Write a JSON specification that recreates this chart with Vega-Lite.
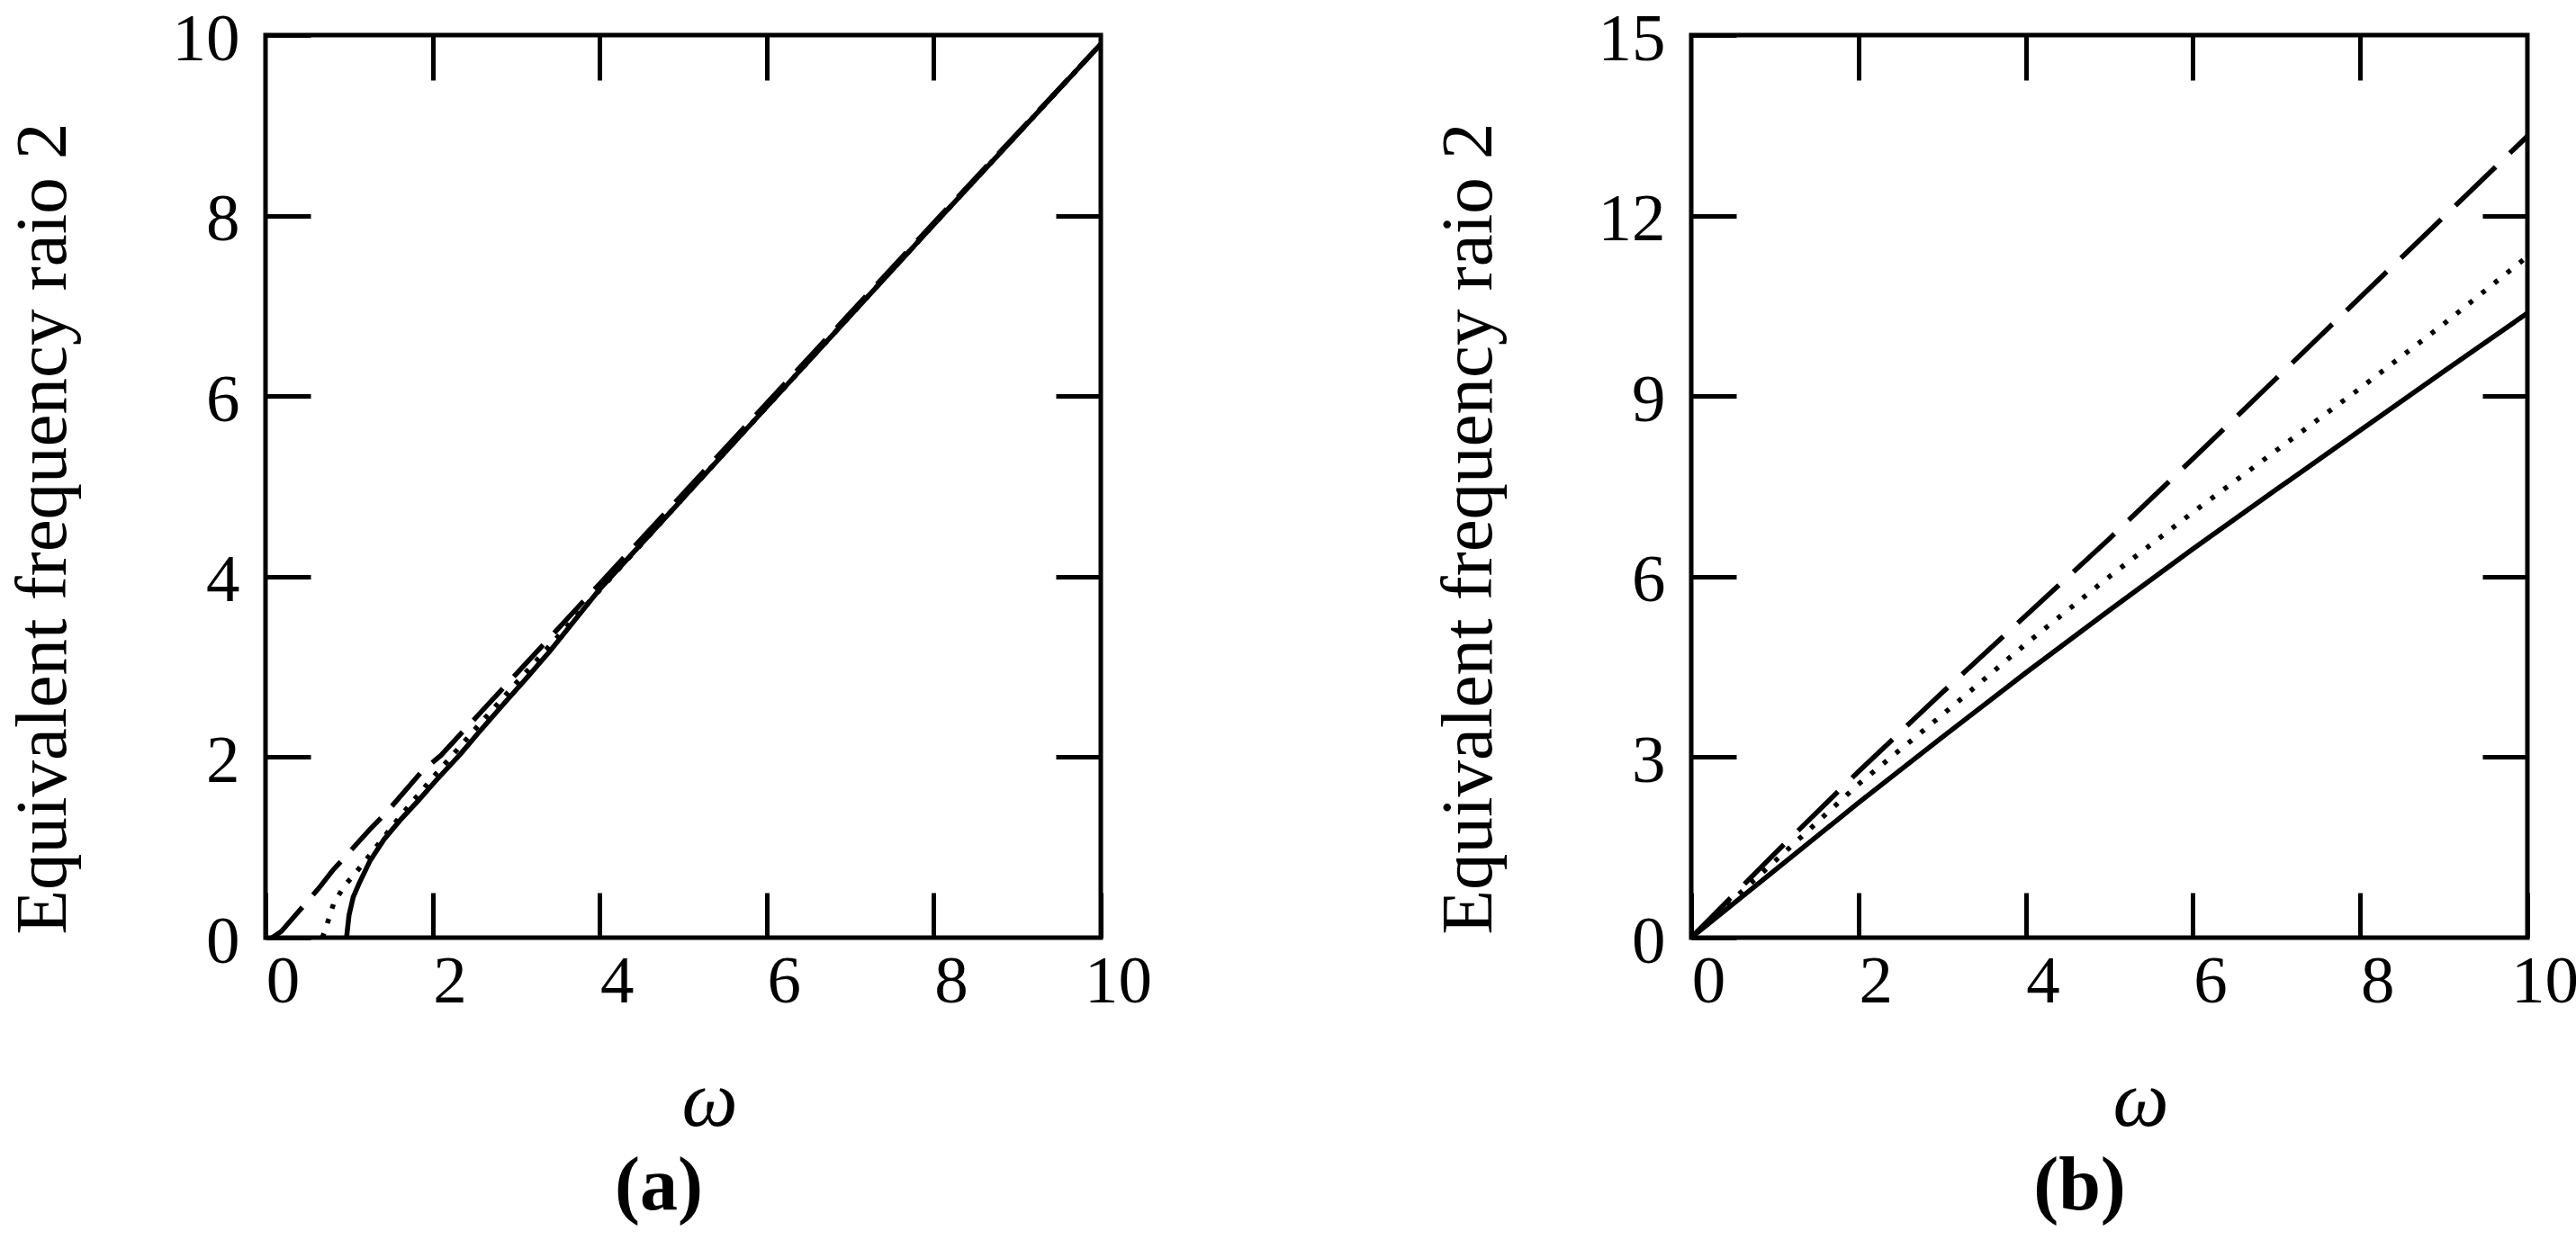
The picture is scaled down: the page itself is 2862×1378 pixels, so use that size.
{
  "$schema": "https://vega.github.io/schema/vega-lite/v6.json",
  "padding": {"left": 4, "top": 3, "right": 0, "bottom": 10},
  "background": "white",
  "config": {
    "font": "Liberation Serif",
    "view": {"stroke": "black", "strokeWidth": 5},
    "axis": {"grid": false, "labelFlush": false, "labelOverlap": false, "labelColor": "black", "labelFontSize": 75, "labelFont": "Liberation Serif", "tickColor": "black", "tickWidth": 5, "domain": false, "titleColor": "black", "titleFont": "Liberation Serif"},
    "title": {"font": "Liberation Serif", "color": "black"}
  },
  "datasets": {
    "a": [
      {"s": "solid", "w": 0.97, "v": 0.0}, {"s": "solid", "w": 1.0, "v": 0.25}, {"s": "solid", "w": 1.05, "v": 0.45}, {"s": "solid", "w": 1.12, "v": 0.6}, {"s": "solid", "w": 1.25, "v": 0.85}, {"s": "solid", "w": 1.42, "v": 1.09}, {"s": "solid", "w": 1.61, "v": 1.3}, {"s": "solid", "w": 1.83, "v": 1.52}, {"s": "solid", "w": 2.04, "v": 1.74}, {"s": "solid", "w": 2.33, "v": 2.03}, {"s": "solid", "w": 2.55, "v": 2.27}, {"s": "solid", "w": 2.87, "v": 2.61}, {"s": "solid", "w": 3.12, "v": 2.87}, {"s": "solid", "w": 3.41, "v": 3.18}, {"s": "solid", "w": 4, "v": 3.86}, {"s": "solid", "w": 5, "v": 4.87}, {"s": "solid", "w": 6, "v": 5.88}, {"s": "solid", "w": 7, "v": 6.89}, {"s": "solid", "w": 8, "v": 7.9}, {"s": "solid", "w": 9, "v": 8.9}, {"s": "solid", "w": 10, "v": 9.9},
      {"s": "dash", "w": 0.08, "v": 0.0}, {"s": "dash", "w": 0.19, "v": 0.07}, {"s": "dash", "w": 0.64, "v": 0.55}, {"s": "dash", "w": 0.8, "v": 0.74}, {"s": "dash", "w": 1.25, "v": 1.2}, {"s": "dash", "w": 1.45, "v": 1.39}, {"s": "dash", "w": 1.88, "v": 1.85}, {"s": "dash", "w": 2.1, "v": 2.02}, {"s": "dash", "w": 2.56, "v": 2.48}, {"s": "dash", "w": 3, "v": 2.92}, {"s": "dash", "w": 4, "v": 3.92}, {"s": "dash", "w": 5, "v": 4.92}, {"s": "dash", "w": 6, "v": 5.92}, {"s": "dash", "w": 7, "v": 6.92}, {"s": "dash", "w": 8, "v": 7.92}, {"s": "dash", "w": 9, "v": 8.91}, {"s": "dash", "w": 10, "v": 9.9},
      {"s": "dot", "w": 0.68, "v": 0.0}, {"s": "dot", "w": 0.72, "v": 0.1}, {"s": "dot", "w": 0.82, "v": 0.39}, {"s": "dot", "w": 0.95, "v": 0.58}, {"s": "dot", "w": 1.09, "v": 0.73}, {"s": "dot", "w": 1.27, "v": 0.94}, {"s": "dot", "w": 1.6, "v": 1.33}, {"s": "dot", "w": 2, "v": 1.77}, {"s": "dot", "w": 2.5, "v": 2.3}, {"s": "dot", "w": 3, "v": 2.82}, {"s": "dot", "w": 4, "v": 3.85}, {"s": "dot", "w": 5, "v": 4.87}, {"s": "dot", "w": 6, "v": 5.88}, {"s": "dot", "w": 7, "v": 6.89}, {"s": "dot", "w": 8, "v": 7.9}, {"s": "dot", "w": 9, "v": 8.9}, {"s": "dot", "w": 10, "v": 9.9}
    ],
    "b": [
      {"s": "solid", "w": 0, "v": 0}, {"s": "solid", "w": 1, "v": 1.12}, {"s": "solid", "w": 2, "v": 2.24}, {"s": "solid", "w": 3, "v": 3.33}, {"s": "solid", "w": 4, "v": 4.4}, {"s": "solid", "w": 5, "v": 5.44}, {"s": "solid", "w": 6, "v": 6.46}, {"s": "solid", "w": 7, "v": 7.45}, {"s": "solid", "w": 8, "v": 8.43}, {"s": "solid", "w": 9, "v": 9.41}, {"s": "solid", "w": 10, "v": 10.38},
      {"s": "dot", "w": 0, "v": 0}, {"s": "dot", "w": 1, "v": 1.27}, {"s": "dot", "w": 2, "v": 2.55}, {"s": "dot", "w": 3, "v": 3.7}, {"s": "dot", "w": 4, "v": 4.88}, {"s": "dot", "w": 5, "v": 6.0}, {"s": "dot", "w": 6, "v": 7.07}, {"s": "dot", "w": 7, "v": 8.1}, {"s": "dot", "w": 8, "v": 9.13}, {"s": "dot", "w": 9, "v": 10.2}, {"s": "dot", "w": 10, "v": 11.32},
      {"s": "dash", "w": 0, "v": 0}, {"s": "dash", "w": 1, "v": 1.4}, {"s": "dash", "w": 2, "v": 2.76}, {"s": "dash", "w": 3, "v": 4.07}, {"s": "dash", "w": 4, "v": 5.35}, {"s": "dash", "w": 5, "v": 6.63}, {"s": "dash", "w": 6, "v": 7.96}, {"s": "dash", "w": 7, "v": 9.3}, {"s": "dash", "w": 8, "v": 10.64}, {"s": "dash", "w": 9, "v": 11.98}, {"s": "dash", "w": 10, "v": 13.32}
    ]
  },
  "bounds": "flush",
  "spacing": 656,
  "hconcat": [
    {
      "width": 928, "height": 1003,
      "data": {"name": "a"},
      "title": {"text": "(a)", "orient": "bottom", "fontSize": 84, "fontWeight": "bold", "anchor": "middle", "dx": -27, "offset": 10},
      "resolve": {"axis": {"x": "independent", "y": "independent"}},
      "layer": [
        {
          "transform": [{"filter": "datum.s == 'solid'"}],
          "mark": {"type": "line", "color": "black", "strokeWidth": 5.5, "clip": true},
          "encoding": {
            "x": {"field": "w", "type": "quantitative", "scale": {"domain": [0, 10], "nice": false}, "axis": {"orient": "bottom", "values": [0, 2, 4, 6, 8, 10], "tickSize": -50, "labelPadding": 62, "labelOffset": 19, "title": "ω", "titleFontSize": 88, "titleFontStyle": "italic", "titleFontWeight": "normal", "titleX": 493, "titleY": 182, "titleBaseline": "middle", "titleAlign": "center"}},
            "y": {"field": "v", "type": "quantitative", "scale": {"domain": [0, 10], "nice": false}, "axis": {"orient": "left", "values": [0, 2, 4, 6, 8, 10], "tickSize": -50, "labelPadding": 79, "labelOffset": 4, "title": "Equivalent frequency raio 2", "titleFontSize": 81, "titleFontWeight": "normal", "titleAngle": -90, "titleX": -247, "titleY": 548, "titleBaseline": "middle", "titleAlign": "center"}}
          }
        },
        {
          "transform": [{"filter": "datum.s == 'dash'"}],
          "mark": {"type": "line", "color": "black", "strokeWidth": 5.5, "strokeDash": [48, 18], "clip": true},
          "encoding": {
            "x": {"field": "w", "type": "quantitative", "axis": {"orient": "top", "values": [2, 4, 6, 8], "tickSize": -50, "labels": false, "title": null}},
            "y": {"field": "v", "type": "quantitative", "axis": {"orient": "right", "values": [2, 4, 6, 8], "tickSize": -50, "labels": false, "title": null}}
          }
        },
        {
          "transform": [{"filter": "datum.s == 'dot'"}],
          "mark": {"type": "line", "color": "black", "strokeWidth": 5.5, "strokeDash": [5, 12], "clip": true},
          "encoding": {
            "x": {"field": "w", "type": "quantitative", "axis": null},
            "y": {"field": "v", "type": "quantitative", "axis": null}
          }
        }
      ]
    },
    {
      "width": 929, "height": 1003,
      "data": {"name": "b"},
      "title": {"text": "(b)", "orient": "bottom", "fontSize": 84, "fontWeight": "bold", "anchor": "middle", "dx": -33, "offset": 10},
      "resolve": {"axis": {"x": "independent", "y": "independent"}},
      "layer": [
        {
          "transform": [{"filter": "datum.s == 'solid'"}],
          "mark": {"type": "line", "color": "black", "strokeWidth": 5.5, "clip": true},
          "encoding": {
            "x": {"field": "w", "type": "quantitative", "scale": {"domain": [0, 10], "nice": false}, "axis": {"orient": "bottom", "values": [0, 2, 4, 6, 8, 10], "tickSize": -50, "labelPadding": 62, "labelOffset": 19, "title": "ω", "titleFontSize": 88, "titleFontStyle": "italic", "titleFontWeight": "normal", "titleX": 499, "titleY": 182, "titleBaseline": "middle", "titleAlign": "center"}},
            "y": {"field": "v", "type": "quantitative", "scale": {"domain": [0, 15], "nice": false}, "axis": {"orient": "left", "values": [0, 3, 6, 9, 12, 15], "tickSize": -50, "labelPadding": 79, "labelOffset": 4, "title": "Equivalent frequency raio 2", "titleFontSize": 81, "titleFontWeight": "normal", "titleAngle": -90, "titleX": -247, "titleY": 548, "titleBaseline": "middle", "titleAlign": "center"}}
          }
        },
        {
          "transform": [{"filter": "datum.s == 'dash'"}],
          "mark": {"type": "line", "color": "black", "strokeWidth": 5.5, "strokeDash": [62, 22], "clip": true},
          "encoding": {
            "x": {"field": "w", "type": "quantitative", "axis": {"orient": "top", "values": [2, 4, 6, 8], "tickSize": -50, "labels": false, "title": null}},
            "y": {"field": "v", "type": "quantitative", "axis": {"orient": "right", "values": [3, 6, 9, 12], "tickSize": -50, "labels": false, "title": null}}
          }
        },
        {
          "transform": [{"filter": "datum.s == 'dot'"}],
          "mark": {"type": "line", "color": "black", "strokeWidth": 5.5, "strokeDash": [5, 13], "clip": true},
          "encoding": {
            "x": {"field": "w", "type": "quantitative", "axis": null},
            "y": {"field": "v", "type": "quantitative", "axis": null}
          }
        }
      ]
    }
  ]
}
